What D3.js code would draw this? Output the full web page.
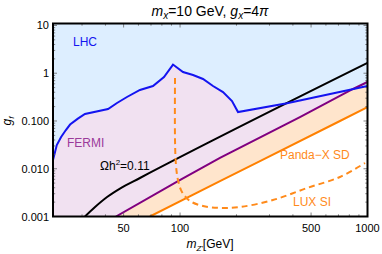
<!DOCTYPE html>
<html>
<head>
<meta charset="utf-8">
<script src="https://cdn.jsdelivr.net/npm/d3@7"></script>
<style>
  body { margin: 0; background: #fff; }
  svg { font-family: "Liberation Sans", Arial, sans-serif; }
</style>
</head>
<body>
<svg id="chart" width="382" height="254"></svg>
<script>
// data: [mZ' (GeV), gf]
var lhcCurve = [[21,0.0152],[22,0.0314],[23.2,0.0462],[24.6,0.0647],[25.9,0.0843],[28.5,0.112],[31.1,0.140],
  [41.3,0.178],[46.1,0.238],[52.1,0.318],[61.1,0.446],[71.7,0.540],[82.1,0.834],[91.7,1.52],[103.7,1.06],
  [117.3,0.918],[132.6,0.757],[149.9,0.540],[169.5,0.404],[189.3,0.262],[203.8,0.154],[372,0.235],[1000,0.54]];
var relicLine = [[31.1,0.001],[35.2,0.00158],[40.8,0.00256],[47.8,0.00385],[61.1,0.0064],[1000,1.64]];
var fermiLine = [[45.5,0.001],[97.5,0.00553],[163.3,0.0168],[436,0.121],[837,0.468],[1000,0.655]];
var pandaLine = [[69.1,0.001],[163.3,0.00553],[273.6,0.0152],[713,0.100],[1000,0.196]];
var luxLine = [[94,0.794],[94,0.040],[95.1,0.012],[97.5,0.0058],[102.4,0.00326],[113,0.00211],[132.6,0.00166],
  [163.3,0.00151],[209,0.00158],[313,0.00221],[476,0.00395],[713,0.00672],[970,0.0132]];

var xTickLabels = [50, 100, 500, 1000];
var yTickLabels = ["0.001", "0.010", "0.100", "1", "10"];

var svg = d3.select("#chart");
var pLeft = 53, pRight = 367.5, pTop = 23.5, pBottom = 216.5;
var xMin = 21, xMax = 1000, yMin = 0.001, yMax = 11;

var x = d3.scaleLog().domain([xMin, xMax]).range([pLeft, pRight]);
var y = d3.scaleLog().domain([yMin, yMax]).range([pBottom, pTop]);

svg.append("clipPath").attr("id", "clip")
  .append("rect").attr("x", pLeft).attr("y", pTop).attr("width", pRight - pLeft).attr("height", pBottom - pTop);

var line = d3.line().x(d => x(d[0])).y(d => y(d[1]));
var smooth = d3.line().x(d => x(d[0])).y(d => y(d[1])).curve(d3.curveMonotoneX);
var plot = svg.append("g").attr("clip-path", "url(#clip)");

//regions excluded above each bound
function upperRegion(pts, startLow) {
  var p = startLow ? [[xMin, yMin]].concat(pts) : pts.slice();
  p.push([xMax, yMax], [xMin, yMax]);
  return line(p) + "Z";
}
plot.append("path").attr("d", upperRegion(pandaLine, true)).attr("fill", "#ffe5cc");
plot.append("path").attr("d", upperRegion(fermiLine, true)).attr("fill", "#f1e1f1");
plot.append("path").attr("d", upperRegion(lhcCurve, false)).attr("fill", "#ddeeff");

plot.append("path").attr("d", line(pandaLine)).attr("fill", "none").attr("stroke", "#ff8000").attr("stroke-width", 2);
plot.append("path").attr("d", line(fermiLine)).attr("fill", "none").attr("stroke", "#800080").attr("stroke-width", 2);
plot.append("path").attr("d", smooth(relicLine)).attr("fill", "none").attr("stroke", "#000").attr("stroke-width", 2);
plot.append("path").attr("d", line(lhcCurve)).attr("fill", "none").attr("stroke", "#1414f0").attr("stroke-width", 2);
plot.append("path").attr("d", d3.line().x(d => x(d[0])).y(d => y(d[1])).curve(d3.curveCatmullRom)(luxLine))
  .attr("fill", "none").attr("stroke", "#ff8a1a").attr("stroke-width", 2).attr("stroke-dasharray", "6,4");

// frame ticks
var xMinor = [];
[10, 100].forEach(function(dec) { for (var k = 1; k < 10; k++) { var v = k * dec; if (v > xMin && v < xMax) xMinor.push(v); } });
var yMinor = [];
[0.001, 0.01, 0.1, 1].forEach(function(dec) { for (var k = 2; k < 10; k++) yMinor.push(k * dec); });
var yMajor = [0.001, 0.01, 0.1, 1, 10];

var ticks = svg.append("g").attr("stroke", "#666").attr("stroke-width", 0.8);
xMinor.forEach(function(v) {
  var len = xTickLabels.indexOf(v) >= 0 ? 4 : 2.2;
  ticks.append("line").attr("x1", x(v)).attr("x2", x(v)).attr("y1", pBottom).attr("y2", pBottom - len);
  ticks.append("line").attr("x1", x(v)).attr("x2", x(v)).attr("y1", pTop).attr("y2", pTop + len);
});
yMinor.concat(yMajor).forEach(function(v) {
  var len = yMajor.indexOf(v) >= 0 ? 4 : 2.2;
  ticks.append("line").attr("y1", y(v)).attr("y2", y(v)).attr("x1", pLeft).attr("x2", pLeft + len);
  ticks.append("line").attr("y1", y(v)).attr("y2", y(v)).attr("x1", pRight).attr("x2", pRight - len);
});

svg.append("rect").attr("x", pLeft).attr("y", pTop).attr("width", pRight - pLeft).attr("height", pBottom - pTop)
  .attr("fill", "none").attr("stroke", "#000").attr("stroke-width", 2);

// tick labels
xTickLabels.forEach(function(v) {
  svg.append("text").attr("x", x(v)).attr("y", 232).attr("text-anchor", "middle")
    .attr("font-size", 11).text(v);
});
yMajor.forEach(function(v, i) {
  svg.append("text").attr("x", 49).attr("y", y(v) + 4).attr("text-anchor", "end")
    .attr("font-size", 11).text(yTickLabels[i]);
});

// titles
var title = svg.append("text").attr("x", 210).attr("y", 15.5).attr("text-anchor", "middle").attr("font-size", 14);
title.append("tspan").attr("font-style", "italic").text("m");
title.append("tspan").attr("font-style", "italic").attr("font-size", 10).attr("dy", 3).text("x");
title.append("tspan").attr("dy", -3).text("=10 GeV, ");
title.append("tspan").attr("font-style", "italic").text("g");
title.append("tspan").attr("font-style", "italic").attr("font-size", 10).attr("dy", 3).text("x");
title.append("tspan").attr("dy", -3).text("=4");
title.append("tspan").attr("font-style", "italic").text("π");

var xl = svg.append("text").attr("x", 210).attr("y", 248).attr("text-anchor", "middle").attr("font-size", 12);
xl.append("tspan").attr("font-style", "italic").text("m");
xl.append("tspan").attr("font-style", "italic").attr("font-size", 8).attr("dy", 3).text("Z'");
xl.append("tspan").attr("dy", -3).text("[GeV]");

var yl = svg.append("text").attr("transform", "translate(11,121) rotate(-90)").attr("text-anchor", "middle").attr("font-size", 12);
yl.append("tspan").attr("font-style", "italic").text("g");
yl.append("tspan").attr("font-style", "italic").attr("font-size", 8).attr("dy", 3).text("f");

// region labels
svg.append("text").attr("x", 73).attr("y", 46).attr("font-size", 12).attr("fill", "#1414f0").text("LHC");
svg.append("text").attr("x", 67).attr("y", 147).attr("font-size", 12).attr("fill", "#9a3a9a").text("FERMI");
var om = svg.append("text").attr("x", 100).attr("y", 170).attr("font-size", 12).attr("fill", "#000");
om.append("tspan").text("Ωh");
om.append("tspan").attr("font-size", 8).attr("dy", -5).text("2");
om.append("tspan").attr("dy", 5).text("=0.11");
svg.append("text").attr("x", 280).attr("y", 159).attr("font-size", 12).attr("fill", "#ff8a1a").text("Panda−X SD");
svg.append("text").attr("x", 293).attr("y", 206).attr("font-size", 12).attr("fill", "#ff8a1a").text("LUX SI");
</script>
</body>
</html>
